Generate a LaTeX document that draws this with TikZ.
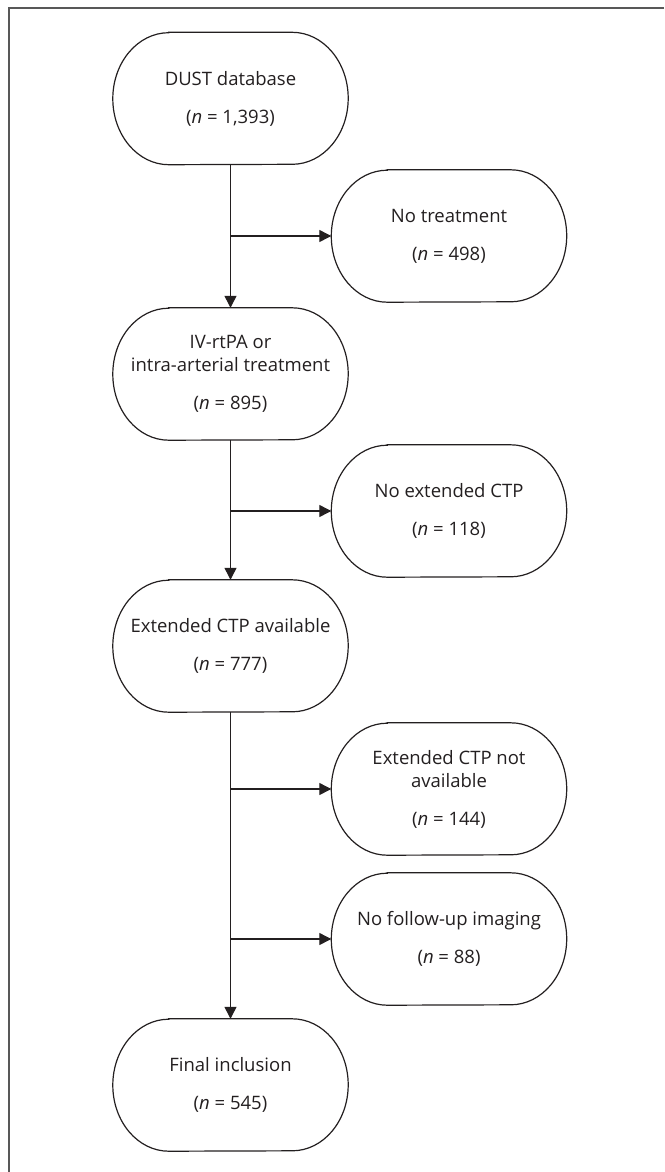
\documentclass[tikz,border=0pt]{standalone}
\usepackage{fontspec}
\setmainfont{Open Sans}
\usepackage{tikz}
\usetikzlibrary{arrows.meta}
\definecolor{ink}{RGB}{35,31,32}
\definecolor{framegray}{RGB}{88,88,88}

\begin{document}
\begin{tikzpicture}[x=1pt,y=1pt,
  box/.style={minimum width=235pt,minimum height=132pt,inner sep=0pt,align=center,
    text=ink,font=\fontsize{18.5}{23}\selectfont},
  link/.style={draw=ink,line width=1.2pt,-{Triangle[length=12pt,width=12pt]}}]
\useasboundingbox (0,0) rectangle (664,-1172);
%Rahmen
\draw[framegray,line width=2pt] (664,-8) -- (9,-8) -- (9,-1172);
%Kaesten links
\node[box] (dust) at (230.5,-98.5) {DUST database\\[15pt](\textit{n} = 1,393)};
\node[box] (treat) at (230.5,-374) {IV-rtPA or\\intra-arterial treatment\\[15pt](\textit{n} = 895)};
\node[box] (extavail) at (230.5,-646) {Extended CTP available\\[15pt](\textit{n} = 777)};
\node[box] (final) at (230.5,-1085) {Final inclusion\\[15pt](\textit{n} = 545)};
%Kaesten rechts
\node[box] (notreat) at (449,-236) {No treatment\\[15pt](\textit{n} = 498)};
\node[box] (noext) at (449,-511) {No extended CTP\\[15pt](\textit{n} = 118)};
\node[box] (extnot) at (449,-789) {Extended CTP not\\available\\[15pt](\textit{n} = 144)};
\node[box] (nofollow) at (449,-939) {No follow-up imaging\\[15pt](\textit{n} = 88)};
%Umrisse
\foreach \n in {dust,treat,extavail,final,notreat,noext,extnot,nofollow}{
  \draw[ink,line width=1.2pt] ([xshift=56pt]\n.north west) -- ([xshift=-56pt]\n.north east)
    arc[start angle=90,end angle=-90,x radius=56pt,y radius=66pt]
    -- ([xshift=56pt]\n.south west)
    arc[start angle=270,end angle=90,x radius=56pt,y radius=66pt] -- cycle;
}
%Abzweige
\coordinate (b1) at (notreat.west -| dust.south);
\coordinate (b2) at (noext.west -| treat.south);
\coordinate (b3) at (extnot.west -| extavail.south);
\coordinate (b4) at (nofollow.west -| extavail.south);
%Pfeile
\draw[link] (dust.south) -- (treat.north);
\draw[link] (treat.south) -- (extavail.north);
\draw[link] (extavail.south) -- (final.north);
\draw[link] (b1) -- (notreat.west);
\draw[link] (b2) -- (noext.west);
\draw[link] (b3) -- (extnot.west);
\draw[link] (b4) -- (nofollow.west);
\end{tikzpicture}
\end{document}
